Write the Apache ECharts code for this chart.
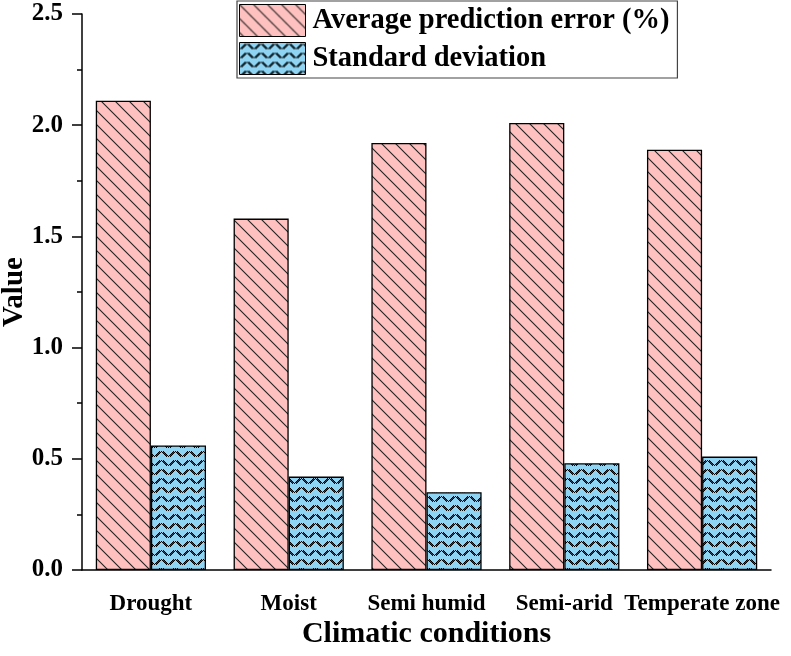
<!DOCTYPE html>
<html><head><meta charset="utf-8">
<script src="https://cdn.jsdelivr.net/npm/echarts@6/dist/echarts.min.js"></script>
<style>html,body{margin:0;padding:0;background:#fff}#c{width:791px;height:656px}</style>
</head><body><div id="c"></div>
<script>
const categories = ['Drought', 'Moist', 'Semi humid', 'Semi-arid', 'Temperate zone'];
const avgError = [2.11, 1.58, 1.92, 2.01, 1.89];
const stdDev = [0.56, 0.42, 0.35, 0.48, 0.51];
const seriesNames = ['Average prediction error (%)', 'Standard deviation'];

function hatch() {
  const s = 14, c = document.createElement('canvas');
  c.width = s; c.height = s;
  const g = c.getContext('2d');
  g.fillStyle = '#FFC0C0'; g.fillRect(0, 0, s, s);
  g.strokeStyle = '#222'; g.lineWidth = 1.1;
  g.beginPath();
  g.moveTo(-1, -1); g.lineTo(s + 1, s + 1);
  g.moveTo(-1, s - 1); g.lineTo(1, s + 1);
  g.moveTo(s - 1, -1); g.lineTo(s + 1, 1);
  g.stroke();
  return c;
}
function weave() {
  const w = 14, h = 9, c = document.createElement('canvas');
  c.width = w; c.height = h;
  const g = c.getContext('2d');
  g.fillStyle = '#8FD4F2'; g.fillRect(0, 0, w, h);
  for (let x = 0; x < w; x++) {
    const y0 = Math.round(Math.abs(x - 7) * 0.72);
    for (let t = 0; t < 3; t++) {
      const y = (y0 + t) % h;
      if ((x + y) % 2 === 0) { g.fillStyle = '#000'; g.fillRect(x, y, 1, 1); }
      else if (t === 1) { g.fillStyle = '#1f4a5e'; g.fillRect(x, y, 1, 1); }
    }
  }
  return c;
}

const font = '"Liberation Serif", "Times New Roman", serif';
const chart = echarts.init(document.getElementById('c'));
chart.setOption({
  animation: false,
  backgroundColor: '#fff',
  legend: {
    orient: 'vertical',
    left: 237, top: 1,
    icon: 'rect',
    itemWidth: 66, itemHeight: 32, itemGap: 5,
    padding: [3, 8, 3, 2],
    borderColor: '#444', borderWidth: 1.2,
    itemStyle: { borderColor: '#000', borderWidth: 1 },
    textStyle: { fontFamily: font, fontWeight: 'bold', fontSize: 28.5, color: '#000', padding: [0, 0, 0, 2] },
    data: seriesNames
  },
  grid: { left: 82, right: 20, top: 14, bottom: 86, containLabel: false, outerBoundsMode: 'none' },
  xAxis: [{
    type: 'category', data: categories,
    axisLine: { lineStyle: { color: '#000', width: 1.5 } },
    axisTick: { alignWithLabel: true, length: 10, lineStyle: { color: '#000', width: 1.5 } },
    axisLabel: { fontFamily: font, fontWeight: 'bold', fontSize: 23, color: '#000', margin: 23, interval: 0 },
    name: 'Climatic conditions', nameLocation: 'middle', nameGap: 49, nameMoveOverlap: false,
    nameTextStyle: { fontFamily: font, fontWeight: 'bold', fontSize: 30, color: '#000' }
  }, {
    type: 'category', data: categories, position: 'bottom',
    axisLine: { show: false },
    axisTick: { length: 5, lineStyle: { color: '#000', width: 1.5 } },
    axisLabel: { show: false }
  }],
  yAxis: {
    type: 'value', min: 0, max: 2.5, interval: 0.5,
    axisLine: { show: true, lineStyle: { color: '#000', width: 1.5 } },
    axisTick: { show: true, length: 10, lineStyle: { color: '#000', width: 1.5 } },
    minorTick: { show: true, splitNumber: 2, length: 5, lineStyle: { color: '#000', width: 1.5 } },
    splitLine: { show: false },
    axisLabel: { fontFamily: font, fontWeight: 'bold', fontSize: 25, color: '#000', margin: 19,
      formatter: v => v.toFixed(1) },
    name: 'Value', nameLocation: 'middle', nameGap: 53, nameMoveOverlap: false,
    nameTextStyle: { fontFamily: font, fontWeight: 'bold', fontSize: 29, color: '#000' }
  },
  series: [{
    name: seriesNames[0], type: 'bar', data: avgError,
    barGap: '0%', barCategoryGap: '20%',
    itemStyle: { color: { image: hatch(), repeat: 'repeat' }, borderColor: '#000', borderWidth: 1.3 }
  }, {
    name: seriesNames[1], type: 'bar', data: stdDev,
    itemStyle: { color: { image: weave(), repeat: 'repeat' }, borderColor: '#000', borderWidth: 1.3 }
  }]
});
</script></body></html>
